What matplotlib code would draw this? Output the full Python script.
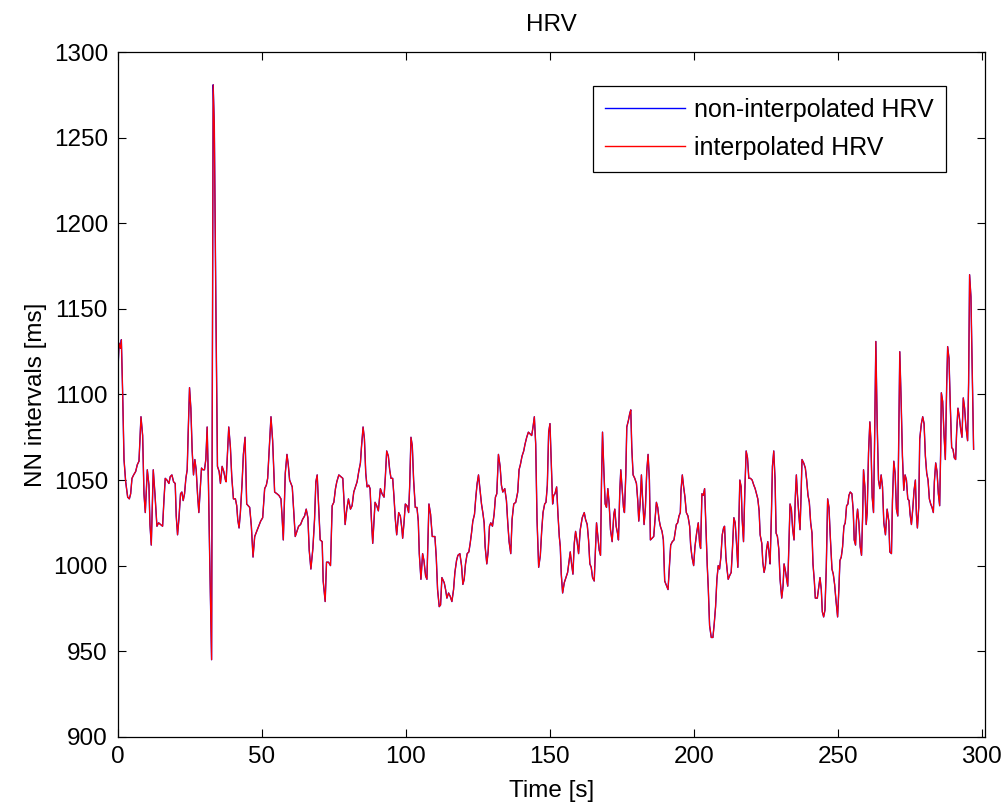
import matplotlib
matplotlib.use("Agg")
import matplotlib.pyplot as plt
import numpy as np

# ---- data (time in s, NN interval in ms) ----
time_a = [0.0, 0.46, 0.92, 1.27, 1.73, 2.19, 2.77, 3.46, 4.04, 4.50, 4.96, 5.54, 6.24, 6.81, 7.39, 8.08, 8.66, 9.12,
          9.58, 10.28, 10.85, 11.20, 11.66, 12.35, 12.93, 13.62, 14.20, 14.89, 15.59, 16.05, 16.51, 17.09, 17.78,
          18.24, 18.82, 19.40, 19.97, 20.32, 20.78, 21.24, 21.82, 22.28, 22.74, 23.21, 23.67, 24.13, 24.48, 24.94,
          25.40, 25.86, 26.32, 26.79, 27.25, 27.71, 28.17, 28.63, 29.10, 29.56, 30.13, 30.60, 31.06, 31.52, 31.95,
          32.60, 33.15, 33.55, 34.10, 34.64, 35.22, 35.68, 36.26, 36.83, 37.41]
nn_a = [1110, 1130, 1127, 1132, 1100, 1062, 1049, 1040, 1039, 1042, 1051, 1053, 1055, 1059, 1061, 1087, 1076, 1042,
        1031, 1056, 1047, 1024, 1012, 1056, 1042, 1023, 1025, 1024, 1023, 1038, 1051, 1050, 1048, 1052, 1053, 1049,
        1048, 1029, 1018, 1027, 1042, 1043, 1038, 1042, 1051, 1056, 1078, 1104, 1092, 1067, 1053, 1062, 1056, 1042,
        1031, 1044, 1057, 1056, 1056, 1062, 1081, 1047, 1004, 945, 1281, 1257, 1150, 1058, 1055, 1048, 1058, 1055,
        1050]

time_b = [37.64, 37.98, 38.56, 39.14, 39.60, 40.18, 40.87, 41.33, 41.68, 42.14, 42.60, 43.18, 43.64, 44.22, 44.79,
          45.83, 46.41, 46.99, 47.57, 48.26, 48.95, 49.64, 50.34, 51.03, 51.61, 52.07, 52.65, 53.22, 53.80, 54.49,
          55.30, 55.99, 56.69, 57.03, 57.50, 58.19, 58.77, 59.23, 59.69, 60.61, 61.19, 61.65, 62.23, 62.81, 63.50,
          64.19, 64.89, 65.46, 66.04, 66.50, 67.08, 67.77, 68.35, 68.81, 69.27, 69.85, 70.31, 71.00, 71.35, 72.04,
          72.51, 73.20, 73.89, 74.47, 75.05, 75.62]
nn_b = [1049, 1061, 1081, 1069, 1052, 1039, 1039, 1035, 1027, 1022, 1031, 1048, 1065, 1075, 1036, 1034, 1023, 1005,
        1017, 1020, 1023, 1026, 1028, 1045, 1047, 1051, 1069, 1087, 1073, 1043, 1042, 1041, 1039, 1030, 1015, 1054,
        1065, 1059, 1050, 1046, 1030, 1017, 1020, 1023, 1024, 1027, 1029, 1033, 1028, 1009, 998, 1010, 1027, 1049,
        1053, 1031, 1015, 1014, 991, 979, 1002, 1002, 1000, 1035, 1037, 1045]

time_c = [76.08, 76.78, 77.47, 78.16, 78.51, 78.97, 79.55, 80.12, 80.82, 81.39, 81.97, 82.55, 83.13, 83.70, 84.28,
          84.63, 85.20, 85.67, 86.13, 86.59, 87.17, 87.63, 88.09, 88.55, 89.01, 89.36, 89.94, 90.51, 91.21, 91.79,
          92.48, 92.94, 93.40, 93.98, 94.44, 94.90, 95.48, 95.94, 96.40, 96.87, 97.56, 98.14, 98.71, 98.94, 99.41,
          99.87, 100.44, 101.02, 101.37, 101.83, 102.29, 102.75, 103.33, 103.91, 104.37, 104.72, 105.29, 105.87,
          106.33, 106.91, 107.37, 107.72, 108.07, 108.64, 109.22, 110.14, 110.61, 111.07, 111.64, 112.11, 112.57]
nn_c = [1049, 1053, 1052, 1051, 1040, 1024, 1033, 1039, 1033, 1035, 1043, 1046, 1049, 1055, 1060, 1069, 1081, 1074,
        1054, 1046, 1047, 1045, 1027, 1013, 1027, 1037, 1035, 1032, 1045, 1042, 1040, 1052, 1067, 1064, 1056, 1051,
        1051, 1040, 1027, 1018, 1031, 1029, 1021, 1016, 1025, 1036, 1035, 1031, 1046, 1075, 1070, 1050, 1034, 1034,
        1026, 1007, 992, 1007, 1003, 994, 992, 1015, 1036, 1030, 1017, 1017, 1005, 986, 976, 977, 993]

time_d = [113.38, 113.85, 114.31, 114.89, 115.46, 116.04, 116.62, 117.08, 117.66, 118.12, 118.81, 119.39, 119.85,
          120.31, 120.77, 121.35, 121.93, 122.39, 122.85, 123.31, 123.89, 124.35, 124.81, 125.28, 125.85, 126.32,
          126.78, 127.24, 127.59, 128.16, 128.62, 129.09, 129.55, 130.13, 130.70, 131.16, 131.63, 132.20, 132.78,
          133.24, 133.71, 134.40, 134.98, 135.44, 135.90, 136.48, 136.94, 137.52, 138.21, 138.90, 139.36, 139.82,
          140.40, 140.98, 141.44, 142.02, 142.60, 143.17, 143.75, 144.21, 144.67, 145.14, 145.60, 146.17, 146.75,
          147.21, 147.68, 148.25, 148.71, 149.18, 149.64, 150.10, 150.56, 151.02]
nn_d = [990, 986, 981, 984, 982, 979, 986, 996, 1003, 1006, 1007, 1000, 989, 992, 1001, 1007, 1008, 1013, 1019, 1026,
        1030, 1040, 1048, 1053, 1044, 1036, 1031, 1025, 1011, 1001, 1008, 1023, 1025, 1023, 1030, 1040, 1042, 1065,
        1058, 1047, 1043, 1045, 1038, 1025, 1014, 1007, 1027, 1036, 1037, 1043, 1056, 1059, 1064, 1067, 1071, 1075,
        1078, 1077, 1076, 1081, 1087, 1071, 1027, 999, 1006, 1020, 1031, 1036, 1037, 1047, 1078, 1083, 1060, 1036]

time_e = [151.37, 151.83, 152.41, 152.87, 153.33, 153.68, 154.02, 154.49, 155.06, 155.64, 156.22, 156.68, 157.14,
          157.60, 158.07, 158.53, 158.99, 159.45, 160.03, 160.61, 161.30, 162.00, 162.45, 163.03, 163.49, 163.95,
          164.42, 164.88, 165.46, 165.80, 166.26, 166.72, 167.19, 167.65, 168.00, 168.34, 168.80, 169.27, 169.73,
          170.19, 170.65, 171.11, 171.69, 172.27, 172.61, 173.08, 173.54, 173.88, 174.35, 174.69, 175.15, 175.62,
          175.96, 176.42, 176.77, 177.35, 177.81, 178.16, 178.50, 178.96, 179.54, 180.12, 180.58, 180.93, 181.39,
          181.85, 182.20, 182.77, 183.24, 183.70, 184.16, 184.62, 184.97, 185.55, 186.12, 186.58, 187.05, 187.51,
          187.97, 188.43, 189.01, 189.47, 189.93]
nn_e = [1041, 1042, 1046, 1030, 1017, 1011, 995, 984, 990, 993, 996, 1002, 1008, 1001, 995, 1013, 1020, 1015, 1007,
        1021, 1028, 1031, 1027, 1024, 1015, 1001, 999, 993, 991, 1005, 1025, 1017, 1009, 1006, 1050, 1078, 1056, 1036,
        1034, 1045, 1036, 1021, 1014, 1030, 1033, 1023, 1019, 1015, 1044, 1056, 1045, 1034, 1031, 1053, 1081, 1085,
        1089, 1091, 1069, 1053, 1051, 1048, 1038, 1026, 1036, 1053, 1041, 1024, 1034, 1055, 1065, 1050, 1015, 1016,
        1017, 1027, 1037, 1034, 1027, 1023, 1020, 1015, 991]

time_f = [190.39, 191.09, 191.55, 192.01, 192.59, 193.16, 193.51, 193.97, 194.43, 194.90, 195.36, 195.59, 196.05,
          196.51, 196.97, 197.44, 198.01, 198.59, 198.94, 199.40, 199.98, 200.44, 201.02, 201.59, 202.05, 202.40,
          202.86, 203.32, 203.79, 204.25, 204.71, 205.06, 205.52, 206.10, 206.67, 207.13, 207.60, 208.06, 208.52,
          208.98, 209.44, 209.91, 210.37, 210.71, 211.18, 211.64, 211.98, 212.45, 213.02, 213.49, 213.95, 214.41,
          214.87, 215.33, 215.68, 216.02, 216.49, 216.83, 217.30, 217.76, 218.22, 218.68, 219.14, 219.72, 220.30,
          220.87, 221.34, 221.80, 222.26, 222.72, 223.07, 223.65, 224.00, 224.45, 224.91, 225.26, 225.72, 226.19,
          226.53, 226.99, 227.34, 227.80, 228.26]
nn_f = [989, 986, 999, 1012, 1014, 1015, 1019, 1024, 1025, 1029, 1031, 1044, 1053, 1046, 1040, 1031, 1029, 1023,
        1012, 1005, 1000, 1011, 1019, 1025, 1013, 1010, 1042, 1041, 1045, 1023, 1000, 987, 965, 958, 958, 966, 976,
        992, 1000, 998, 1005, 1018, 1022, 1023, 1005, 997, 992, 994, 996, 1011, 1028, 1025, 1013, 999, 1024, 1050,
        1046, 1027, 1014, 1044, 1067, 1063, 1051, 1051, 1050, 1047, 1045, 1042, 1039, 1032, 1018, 1013, 1002, 996,
        1000, 1009, 1014, 1007, 1001, 1030, 1058, 1067, 1050]

time_g = [228.61, 229.07, 229.53, 229.99, 230.57, 231.03, 231.38, 231.84, 232.30, 232.65, 232.99, 233.46, 233.92,
          234.38, 234.84, 235.31, 235.65, 236.00, 236.46, 236.92, 237.27, 237.61, 238.19, 238.77, 239.23, 239.69,
          240.15, 240.62, 241.08, 241.42, 241.89, 242.23, 242.93, 243.39, 243.85, 244.31, 244.66, 245.12, 245.58,
          246.04, 246.51, 246.97, 247.43, 248.01, 248.47, 248.93, 249.39, 249.97, 250.43, 250.78, 251.24, 251.70,
          252.16, 252.62, 253.09, 253.55, 253.89, 254.36, 254.93, 255.40, 255.74, 256.20, 256.55, 256.90, 257.36,
          257.82, 258.28, 258.63, 258.97, 259.44, 259.90, 260.24, 260.71, 261.17, 261.51, 261.98, 262.44, 262.78,
          263.25, 263.71, 264.17, 264.63, 265.09, 265.56]
nn_g = [1019, 1017, 1010, 992, 981, 988, 1001, 997, 992, 988, 1009, 1036, 1033, 1021, 1015, 1041, 1053, 1042, 1031,
        1021, 1040, 1062, 1060, 1057, 1050, 1041, 1037, 1025, 1019, 1001, 991, 981, 981, 987, 993, 986, 973, 970, 974,
        999, 1039, 1034, 1017, 998, 995, 989, 980, 970, 987, 1003, 1005, 1011, 1023, 1025, 1035, 1036, 1041, 1043,
        1042, 1032, 1015, 1012, 1027, 1033, 1025, 1011, 1006, 1027, 1056, 1046, 1024, 1031, 1066, 1084, 1074, 1040,
        1031, 1069, 1131, 1083, 1050, 1045, 1053, 1046]

time_h = [266.02, 266.59, 267.17, 267.75, 268.09, 268.67, 269.02, 269.48, 269.94, 270.40, 270.87, 271.21, 271.56,
          272.02, 272.48, 272.94, 273.40, 273.87, 274.33, 274.79, 275.14, 275.60, 276.06, 276.52, 276.98, 277.33,
          277.68, 278.14, 278.49, 279.06, 279.52, 279.99, 280.45, 280.91, 281.37, 281.83, 282.30, 282.76, 283.22,
          283.57, 284.03, 284.49, 284.95, 285.41, 285.76, 285.99, 286.45, 286.91, 287.38, 287.84, 288.18, 288.65,
          289.11, 289.57, 290.03, 290.49, 290.95, 291.30, 291.76, 292.22, 292.69, 293.15, 293.61, 294.07, 294.53,
          295.11, 295.46, 295.80, 296.27, 296.73, 297.19]
nn_h = [1025, 1018, 1033, 1026, 1008, 1007, 1038, 1061, 1054, 1033, 1029, 1075, 1125, 1097, 1064, 1044, 1053, 1050,
        1039, 1038, 1030, 1024, 1033, 1044, 1050, 1030, 1022, 1034, 1074, 1083, 1087, 1083, 1064, 1054, 1050, 1039,
        1036, 1034, 1031, 1049, 1060, 1055, 1042, 1035, 1067, 1101, 1096, 1077, 1062, 1105, 1128, 1121, 1093, 1069,
        1068, 1063, 1062, 1078, 1092, 1087, 1080, 1075, 1098, 1092, 1081, 1073, 1107, 1170, 1157, 1112, 1068]

x_ticks = [0, 50, 100, 150, 200, 250, 300]
y_ticks = [900, 950, 1000, 1050, 1100, 1150, 1200, 1250, 1300]

time_s = np.concatenate([time_a, time_b, time_c, time_d, time_e, time_f, time_g, time_h])
nn_ms = np.concatenate([nn_a, nn_b, nn_c, nn_d, nn_e, nn_f, nn_g, nn_h])

# ---- figure ----
plt.rcParams['font.family'] = ['Liberation Sans', 'DejaVu Sans']
FS = 17.5
FS_LEG = 18
fig = plt.figure(figsize=(10.06, 8.05), dpi=100)
ax = fig.add_axes([117.7 / 1006, 1 - 736.7 / 805, (985 - 117.7) / 1006, (736.7 - 52.3) / 805])

ax.plot(time_s, nn_ms, color='#0000FF', lw=1.0, label='non-interpolated HRV')
ax.plot(time_s, nn_ms, color='#FF0000', lw=0.85, label='interpolated HRV')

ax.set_xlim(0, 301.15)
ax.set_ylim(900, 1300)
ax.set_xticks(x_ticks)
ax.set_yticks(y_ticks)
ax.tick_params(direction='in', length=6, width=0.8, top=True, right=True,
               labelsize=FS, pad=7, colors='black')
for s in ax.spines.values():
    s.set_linewidth(0.9)
    s.set_color('black')

ax.set_title('HRV', fontsize=FS, pad=15)
ax.set_xlabel('Time [s]', fontsize=FS, labelpad=8)
ax.set_ylabel('NN intervals [ms]', fontsize=FS, labelpad=5)

leg = ax.legend(loc='upper right', bbox_to_anchor=(0.9545, 0.951), borderaxespad=0,
                fontsize=FS_LEG, frameon=True, fancybox=False, framealpha=1,
                handlelength=3.2, handletextpad=0.37, labelspacing=0.58, borderpad=0.47)
leg.get_frame().set_edgecolor('black')
leg.get_frame().set_linewidth(0.9)
for h in leg.get_lines():
    h.set_linewidth(1.0)

fig.savefig('out.png', dpi=100, facecolor='white')
